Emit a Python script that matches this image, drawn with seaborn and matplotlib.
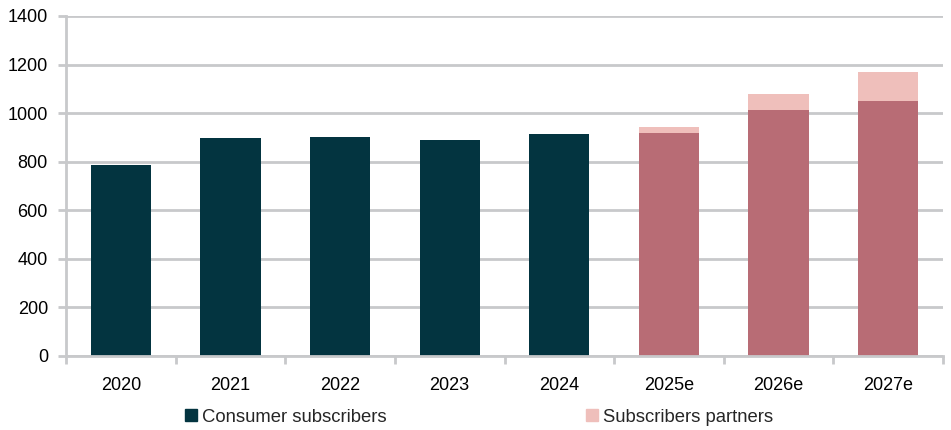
import matplotlib
matplotlib.use("Agg")
import matplotlib.pyplot as plt
import seaborn as sns
import pandas as pd
from matplotlib.lines import Line2D
from matplotlib.ticker import FixedLocator

years = ["2020", "2021", "2022", "2023", "2024", "2025e", "2026e", "2027e"]
consumer = [786, 897, 901, 890, 914, 919, 1012, 1051]
partners = [0, 0, 0, 0, 0, 22, 67, 119]
yticks = [0, 200, 400, 600, 800, 1000, 1200, 1400]

DARK = "#033440"
ROSE = "#b86c75"
PINK = "#efbfbb"
GRID = "#c8c9cb"

df = pd.DataFrame({"year": years, "consumer": consumer, "partners": partners})
df["total"] = df["consumer"] + df["partners"]
cons_colors = [DARK if not y.endswith("e") else ROSE for y in years]

sns.set_theme(style="white")
plt.rcParams["font.family"] = ["Liberation Sans", "DejaVu Sans"]

fig = plt.figure(figsize=(9.51, 4.30), dpi=100)
ax = fig.add_axes([66/951, 1 - 356/430, (943-66)/951, (356-16)/430])

sns.barplot(data=df, x="year", y="total", hue="year", palette=[PINK]*len(years),
            legend=False, width=0.55, ax=ax, saturation=1, linewidth=0)
sns.barplot(data=df, x="year", y="consumer", hue="year", palette=cons_colors,
            legend=False, width=0.55, ax=ax, saturation=1, linewidth=0)

ax.set_ylim(0, 1400)
ax.set_xlim(-0.5, len(years) - 0.5)
ax.set_yticks(yticks)
ax.set_yticklabels([str(v) for v in yticks])
ax.yaxis.grid(True, color=GRID, linewidth=2)
ax.set_axisbelow(True)
ax.set_xlabel("")
ax.set_ylabel("")

for s in ["top", "right"]:
    ax.spines[s].set_visible(False)
for s in ["left", "bottom"]:
    ax.spines[s].set_color(GRID)
    ax.spines[s].set_linewidth(2)

ax.tick_params(axis="y", which="major", left=True, length=6, width=2, color=GRID,
               labelsize=13, pad=7, labelcolor="black")
ax.tick_params(axis="x", which="major", bottom=False, labelsize=13, pad=9, labelcolor="black")
ax.xaxis.set_minor_locator(FixedLocator([i + 0.5 for i in range(-1, len(years))]))
ax.tick_params(axis="x", which="minor", bottom=True, length=6, width=2, color=GRID)

labels = ["Consumer subscribers", "Subscribers partners"]
colors = [DARK, PINK]
xs = [183/951, 584/951]
for lab, col, x in zip(labels, colors, xs):
    h = Line2D([0], [0], marker="s", linestyle="none", markersize=9, markerfacecolor=col,
               markeredgecolor=col, label=lab)
    fig.legend(handles=[h], loc="center left", bbox_to_anchor=(x, 1 - 417/430),
               frameon=False, fontsize=13.3, handletextpad=0.15, handlelength=0.9,
               borderpad=0, borderaxespad=0)

fig.savefig("out.png", dpi=100)
